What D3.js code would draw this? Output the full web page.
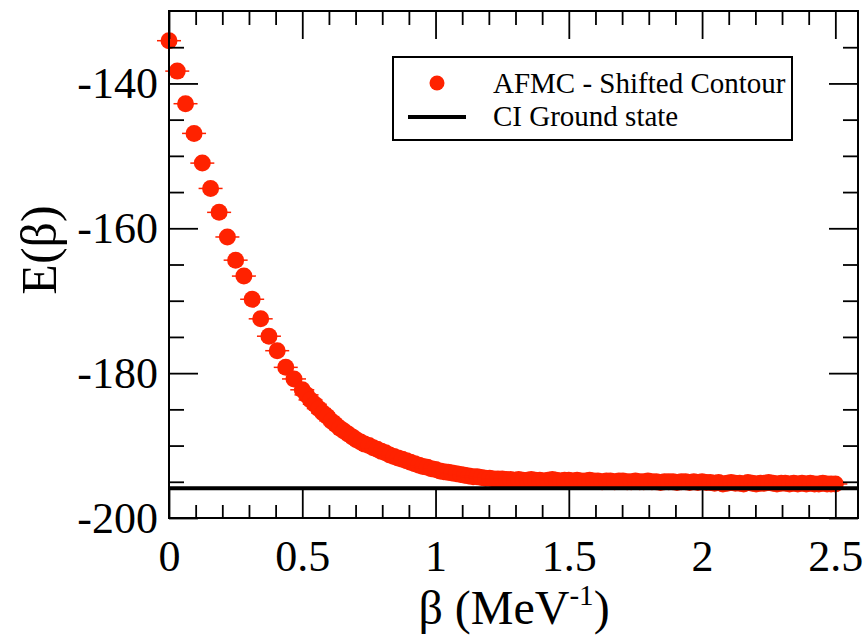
<!DOCTYPE html>
<html>
<head>
<meta charset="utf-8">
<script src="https://cdn.jsdelivr.net/npm/d3@7"></script>
<style>
body { margin: 0; background: #fff; }
text { font-family: "Liberation Serif", "Times New Roman", serif; }
</style>
</head>
<body>
<script>
// beta values (MeV^-1) of the AFMC points, sparse at first then dense
var betas = [0, 0.031, 0.062, 0.094, 0.125, 0.156, 0.188, 0.219, 0.25, 0.281,
	0.312, 0.344, 0.375, 0.406, 0.438, 0.469,
	0.5, 0.516, 0.531, 0.547, 0.562, 0.578, 0.594, 0.609, 0.625, 0.641, 0.656, 0.672, 0.688, 0.703, 0.719, 0.734,
	0.75, 0.766, 0.781, 0.797, 0.812, 0.828, 0.844, 0.859, 0.875, 0.891, 0.906, 0.922, 0.938, 0.953, 0.969, 0.984,
	1.0, 1.016, 1.031, 1.047, 1.062, 1.078, 1.094, 1.109, 1.125, 1.141, 1.156, 1.172, 1.188, 1.203, 1.219, 1.234,
	1.25, 1.266, 1.281, 1.297, 1.312, 1.328, 1.344, 1.359, 1.375, 1.391, 1.406, 1.422, 1.438, 1.453, 1.469, 1.484,
	1.5, 1.516, 1.531, 1.547, 1.562, 1.578, 1.594, 1.609, 1.625, 1.641, 1.656, 1.672, 1.688, 1.703, 1.719, 1.734,
	1.75, 1.766, 1.781, 1.797, 1.812, 1.828, 1.844, 1.859, 1.875, 1.891, 1.906, 1.922, 1.938, 1.953, 1.969, 1.984,
	2.0, 2.016, 2.031, 2.047, 2.062, 2.078, 2.094, 2.109, 2.125, 2.141, 2.156, 2.172, 2.188, 2.203, 2.219, 2.234,
	2.25, 2.266, 2.281, 2.297, 2.312, 2.328, 2.344, 2.359, 2.375, 2.391, 2.406, 2.422, 2.438, 2.453, 2.469, 2.484,
	2.5];
var energies = [-134.1, -138.3, -142.8, -146.9, -151.0, -154.5, -157.8, -161.2, -164.4, -166.6,
	-169.8, -172.5, -174.9, -176.9, -179.2, -180.8,
	-182.3, -183.0, -183.7, -184.3, -184.9, -185.5, -186.0, -186.6, -187.1, -187.6, -188.0, -188.4, -188.8, -189.2, -189.5, -189.8,
	-190.0, -190.3, -190.5, -190.8, -191.0, -191.3, -191.5, -191.7, -191.9, -192.1, -192.3, -192.5, -192.7, -192.9, -193.0, -193.2,
	-193.3, -193.5, -193.6, -193.7, -193.8, -193.9, -194.0, -194.1, -194.2, -194.3, -194.3, -194.4, -194.5, -194.5, -194.6, -194.6,
	-194.6, -194.7, -194.7, -194.8, -194.7, -194.8, -194.8, -194.7, -194.8, -194.8, -194.9, -194.8, -194.7, -194.8, -194.9, -194.8,
	-194.8, -194.9, -194.8, -194.9, -194.9, -194.8, -194.9, -194.9, -195.0, -194.9, -194.9, -195.0, -194.9, -194.9, -195.0, -195.0,
	-194.9, -195.0, -195.0, -194.9, -195.0, -195.0, -195.1, -195.0, -195.0, -195.0, -195.1, -195.0, -195.0, -195.1, -195.0, -195.1,
	-195.0, -195.1, -195.1, -195.2, -195.1, -195.3, -195.2, -195.1, -195.2, -195.2, -195.3, -195.1, -195.2, -195.3, -195.2, -195.2,
	-195.1, -195.2, -195.3, -195.2, -195.2, -195.3, -195.2, -195.3, -195.2, -195.3, -195.2, -195.3, -195.3, -195.2, -195.3, -195.3,
	-195.3];
var ciGround = -195.9;

var xMajor = [0, 0.5, 1, 1.5, 2, 2.5];
var xMinor = [0.1, 0.2, 0.3, 0.4, 0.6, 0.7, 0.8, 0.9, 1.1, 1.2, 1.3, 1.4,
	1.6, 1.7, 1.8, 1.9, 2.1, 2.2, 2.3, 2.4];
var yMajor = [-200, -180, -160, -140];
var yMinor = [-195, -190, -185, -175, -170, -165, -155, -150, -145, -135];
var legendLabels = ["AFMC - Shifted Contour", "CI Ground state"];

var red = "rgb(255,34,0)";

var svg = d3.select("body").append("svg")
	.attr("width", 865)
	.attr("height", 642);

var x = d3.scaleLinear().domain([0, 2.585]).range([169, 858]);
var y = d3.scaleLinear().domain([-200, -130]).range([518, 11]);

// points with their small horizontal bars
var pts = svg.append("g").selectAll("g")
	.data(betas)
	.enter().append("g")
	.attr("transform", function(d, i) { return "translate(" + x(d) + "," + y(energies[i]) + ")"; });
pts.append("line")
	.attr("x1", -12).attr("x2", 12)
	.attr("stroke", red).attr("stroke-width", 1.5);
pts.append("circle")
	.attr("r", 8.5)
	.attr("fill", red);

// CI ground state line
svg.append("line")
	.attr("x1", x.range()[0]).attr("x2", x.range()[1])
	.attr("y1", y(ciGround)).attr("y2", y(ciGround))
	.attr("stroke", "#000").attr("stroke-width", 4);

function styleAxis(g) {
	g.select(".domain").remove();
	g.selectAll("line").attr("stroke", "#000").attr("stroke-width", 1.8);
	g.selectAll("text").attr("fill", "#000").style("font-size", "44px")
		.style("font-family", "'Liberation Serif', serif");
}

var fmt = function(d) { return String(d); };

svg.append("g").attr("transform", "translate(0,518)")
	.call(d3.axisBottom(x).tickValues(xMajor).tickSize(-28).tickPadding(22).tickFormat(fmt))
	.call(styleAxis);
svg.append("g").attr("transform", "translate(0,518)")
	.call(d3.axisBottom(x).tickValues(xMinor).tickSize(-13).tickFormat(""))
	.call(styleAxis);
svg.append("g").attr("transform", "translate(0,11)")
	.call(d3.axisTop(x).tickValues(xMajor).tickSize(-28).tickFormat(""))
	.call(styleAxis);
svg.append("g").attr("transform", "translate(0,11)")
	.call(d3.axisTop(x).tickValues(xMinor).tickSize(-14).tickFormat(""))
	.call(styleAxis);

svg.append("g").attr("transform", "translate(169,0)")
	.call(d3.axisLeft(y).tickValues(yMajor).tickSize(-29).tickPadding(11).tickFormat(fmt))
	.call(styleAxis);
svg.append("g").attr("transform", "translate(169,0)")
	.call(d3.axisLeft(y).tickValues(yMinor).tickSize(-15).tickFormat(""))
	.call(styleAxis);
svg.append("g").attr("transform", "translate(858,0)")
	.call(d3.axisRight(y).tickValues(yMajor).tickSize(-29).tickFormat(""))
	.call(styleAxis);
svg.append("g").attr("transform", "translate(858,0)")
	.call(d3.axisRight(y).tickValues(yMinor).tickSize(-15).tickFormat(""))
	.call(styleAxis);

// frame
svg.append("rect")
	.attr("x", 169).attr("y", 11)
	.attr("width", 858 - 169).attr("height", 518 - 11)
	.attr("fill", "none").attr("stroke", "#000").attr("stroke-width", 2);

// axis titles
var xt = svg.append("text")
	.attr("x", 514).attr("y", 624)
	.attr("text-anchor", "middle")
	.style("font-size", "48px");
xt.append("tspan").text("\u03b2 (MeV");
xt.append("tspan").attr("dy", -19).style("font-size", "29px").text("-1");
xt.append("tspan").attr("dy", 19).text(")");

svg.append("text")
	.attr("transform", "translate(56,250)rotate(-90)")
	.attr("text-anchor", "middle")
	.style("font-size", "50px")
	.text("E(\u03b2)");

// legend
var lg = svg.append("g");
lg.append("rect")
	.attr("x", 393).attr("y", 57).attr("width", 399).attr("height", 83)
	.attr("fill", "#fff").attr("stroke", "#000").attr("stroke-width", 2);
lg.append("circle").attr("cx", 437).attr("cy", 83).attr("r", 7.5).attr("fill", red);
lg.append("line").attr("x1", 408).attr("x2", 466).attr("y1", 117).attr("y2", 117)
	.attr("stroke", "#000").attr("stroke-width", 4);
lg.selectAll("text.lab")
	.data(legendLabels)
	.enter().append("text")
	.attr("class", "lab")
	.attr("x", 493)
	.attr("y", function(d, i) { return 93 + i * 33; })
	.style("font-size", "29px")
	.text(function(d) { return d; });
</script>
</body>
</html>
